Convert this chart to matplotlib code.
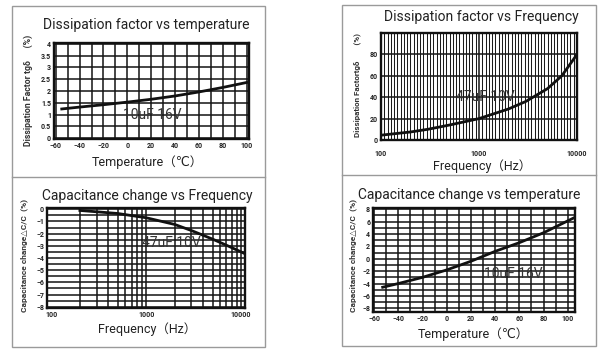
import numpy as np
import matplotlib
matplotlib.use("Agg")
import matplotlib.pyplot as plt
from matplotlib.patches import Rectangle
from matplotlib.lines import Line2D

plt.rcParams['font.family'] = ['Roboto', 'DejaVu Sans', 'Noto Sans CJK SC']

# dissipation factor vs temperature (10uF 16V)
df_temp = [-55, -40, -20, 0, 20, 40, 60, 80, 100]
df_temp_val = [1.24, 1.32, 1.42, 1.53, 1.65, 1.79, 1.96, 2.15, 2.36]

# dissipation factor vs frequency (47uF 10V)
df_freq = [100, 200, 300, 500, 1000, 2000, 3000, 5000, 7000, 10000]
df_freq_val = [4.5, 7.5, 10, 14, 20, 29, 36, 48, 60, 80]

# capacitance change vs frequency (47uF 10V)
cc_freq = [200, 500, 1000, 2000, 3000, 5000, 7000, 10000, 11000]
cc_freq_val = [-0.1, -0.35, -0.7, -1.25, -1.75, -2.45, -2.95, -3.5, -3.65]

# capacitance change vs temperature (10uF 16V)
cc_temp = [-53, -40, -20, 0, 20, 40, 60, 80, 105]
cc_temp_val = [-4.6, -4.0, -3.0, -1.8, -0.4, 1.2, 2.6, 4.2, 6.6]

temp_ticks = [-60, -40, -20, 0, 20, 40, 60, 80, 100]
freq_ticks = [100, 1000, 10000]
freq_labels = ['100', '1000', '10000']

W, H = 600, 350
fig = plt.figure(figsize=(6, 3.5), dpi=100)


def box(x0, y0, x1, y1):
    # pixel coords, y from top
    return [x0 / W, 1 - y1 / H, (x1 - x0) / W, (y1 - y0) / H]


def style(ax, xpad=2.5):
    for s in ax.spines.values():
        s.set_linewidth(1.7)
        s.set_color('#111')
    ax.tick_params(which='both', length=0, pad=2, labelsize=5, labelcolor='#222')
    ax.tick_params(axis='x', pad=xpad)
    for lab in ax.get_xticklabels() + ax.get_yticklabels():
        lab.set_fontweight('bold')
    ax.grid(which='both', color='#141414', linewidth=1.1)
    ax.set_axisbelow(True)


# panel frames
for x0, x1, top, mid, bot in [(12, 265, 6, 177, 347), (342, 596, 5, 175, 346)]:
    fig.add_artist(Rectangle((x0 / W, 1 - bot / H), (x1 - x0) / W, (bot - top) / H,
                             transform=fig.transFigure, fill=False, ec='#9a9a9a', lw=1))
    fig.add_artist(Line2D([x0 / W, x1 / W], [1 - mid / H, 1 - mid / H],
                          transform=fig.transFigure, color='#9a9a9a', lw=1))

# --- top left
ax1 = fig.add_axes(box(54, 43, 249, 139))
ax1.plot(df_temp, df_temp_val, color='#111', lw=2)
ax1.set_xlim(-61.5, 102)
ax1.set_ylim(-0.03, 4.03)
ax1.set_xticks(temp_ticks)
ax1.set_xticks(np.arange(-60, 101, 10), minor=True)
ax1.set_yticks(np.arange(0, 4.01, 0.5))
ax1.set_yticklabels(['0', '0.5', '1', '1.5', '2', '2.5', '3', '3.5', '4'])
style(ax1)
ax1.text(21, 1.0, '10uF 16V', fontsize=10, color='#333', ha='center', va='center')
fig.text(43 / W, 1 - 25 / H, 'Dissipation factor vs temperature', fontsize=10,
         color='#222', va='center')
fig.text(147 / W, 1 - 162 / H, 'Temperature（℃）', fontsize=9, color='#222',
         ha='center', va='center')
fig.text(28 / W, 1 - 146 / H, 'Dissipation Factor tgδ      (%)', fontsize=6.3,
         fontweight='bold', color='#333', rotation=90, ha='center', va='bottom')

# --- top right
ax2 = fig.add_axes(box(381, 33, 577, 140))
ax2.plot(df_freq, df_freq_val, color='#111', lw=2)
ax2.set_xscale('log')
ax2.set_xlim(100, 10000)
ax2.set_ylim(0, 100)
ax2.set_xticks(freq_ticks)
ax2.set_xticklabels(freq_labels)
ax2.set_xticks(10 ** np.linspace(2, 4, 61), minor=True)
ax2.xaxis.set_minor_formatter(plt.NullFormatter())
ax2.set_yticks([0, 20, 40, 60, 80])
ax2.set_yticks([], minor=True)
style(ax2, xpad=7)
ax2.grid(which='minor', axis='x', color='#1a1a1a', linewidth=0.75)
ax2.text(1150, 40, '47uF 10V', fontsize=10, color='#333', ha='center', va='center')
fig.text(481 / W, 1 - 17 / H, 'Dissipation factor vs Frequency', fontsize=10,
         color='#222', ha='center', va='center')
fig.text(482 / W, 1 - 166 / H, 'Frequency（Hz）', fontsize=9, color='#222',
         ha='center', va='center')
fig.text(357 / W, 1 - 137 / H, 'Dissipation Factortgδ        (%)', fontsize=5.8,
         fontweight='bold', color='#333', rotation=90, ha='center', va='bottom')

# --- bottom left
ax3 = fig.add_axes(box(47, 208, 245, 308))
ax3.plot(cc_freq, cc_freq_val, color='#111', lw=2)
ax3.set_xscale('log')
ax3.set_xlim(90, 11000)
ax3.set_ylim(-8.1, 0.1)
ax3.xaxis.remove_overlapping_locs = False
ax3.set_xticks(freq_ticks)
ax3.set_xticklabels(freq_labels)
ax3.set_xticks([200, 300, 400, 500, 600, 700, 800, 900, 1000,
                2000, 3000, 4000, 5000, 6000, 7000, 8000, 9000, 10000], minor=True)
ax3.xaxis.set_minor_formatter(plt.NullFormatter())
ax3.set_yticks(np.arange(0, -8.01, -1))
ax3.set_yticks(np.arange(-0.5, -8, -1), minor=True)
style(ax3)
ax3.grid(which='major', axis='x', visible=False)
ax3.text(1860, -2.78, '47uF 10V', fontsize=10, color='#333', ha='center', va='center')
fig.text(147 / W, 1 - 196 / H, 'Capacitance change vs Frequency', fontsize=10,
         color='#222', ha='center', va='center')
fig.text(147 / W, 1 - 329 / H, 'Frequency（Hz）', fontsize=9, color='#222',
         ha='center', va='center')
fig.text(24 / W, 1 - 312 / H, 'Capacitance change△C/C  (%)', fontsize=6,
         fontweight='bold', color='#333', rotation=90, ha='center', va='bottom')

# --- bottom right
ax4 = fig.add_axes(box(373, 208, 575, 312))
ax4.plot(cc_temp, cc_temp_val, color='#111', lw=2)
ax4.set_xlim(-61, 106)
ax4.set_ylim(-8.6, 8.2)
ax4.set_xticks(temp_ticks)
ax4.set_xticks(np.arange(-60, 101, 10), minor=True)
ax4.set_yticks(np.arange(-8, 8.1, 2))
ax4.set_yticks(np.arange(-7, 8, 2), minor=True)
style(ax4)
ax4.text(55, -2.4, '10uF 16V', fontsize=10, color='#333', ha='center', va='center')
fig.text(469 / W, 1 - 195 / H, 'Capacitance change vs temperature', fontsize=10,
         color='#222', ha='center', va='center')
fig.text(473 / W, 1 - 334 / H, 'Temperature（℃）', fontsize=9, color='#222',
         ha='center', va='center')
fig.text(353 / W, 1 - 312 / H, 'Capacitance change△C/C  (%)', fontsize=6,
         fontweight='bold', color='#333', rotation=90, ha='center', va='bottom')

fig.savefig('out.png', dpi=100, facecolor='white')
